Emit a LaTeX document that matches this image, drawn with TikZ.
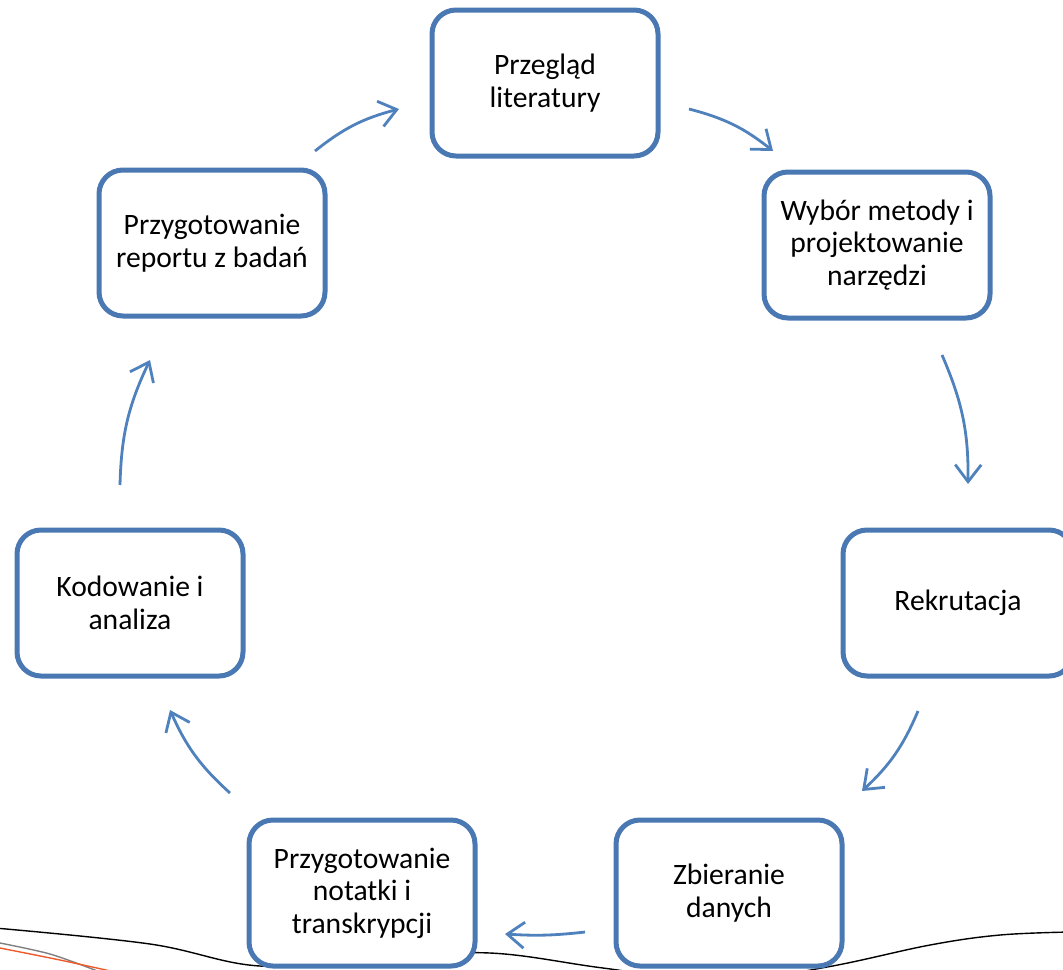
\documentclass[tikz,border=0pt]{standalone}
\usepackage{fontspec}
\setmainfont{Carlito}
\usetikzlibrary{arrows.meta}
\definecolor{boxblue}{HTML}{4A78B2}
\definecolor{arrblue}{HTML}{4F81BD}
\definecolor{footorange}{HTML}{F05A28}
\tikzset{
  stage/.style={draw=boxblue, line width=2.5pt, rounded corners=12pt, fill=white,
    minimum width=113pt, minimum height=73pt, align=center, inner sep=0pt,
    font=\fontsize{14.8pt}{16.2pt}\selectfont},
  flow/.style={draw=arrblue, line width=1.4pt, -{Straight Barb[length=8.5pt,width=13pt,line width=1.4pt]}, bend left=12},
}
\begin{document}
\begin{tikzpicture}[x=0.5pt,y=-0.5pt]
\useasboundingbox (0,0) rectangle (1063,969);
\clip (0,0) rectangle (1063,969);
% footer decoration lines
\draw[black, line width=0.7pt] plot[smooth, tension=0.6] coordinates {(-5,928) (150,944) (260,966) (380,958) (490,953) (603,968) (720,982) (827,967) (930,945) (1000,935) (1070,932)};
\draw[gray, line width=0.7pt] plot[smooth] coordinates {(-5,942) (50,954) (100,972)};
\draw[footorange, line width=0.7pt] plot[smooth] coordinates {(-5,947) (60,960) (115,972)};
% stages
\node[stage] (n1) at (545,83) {Przegląd\\literatury};
\node[stage] (n2) at (877,245) {Wybór metody i\\projektowanie\\narzędzi};
\node[stage, minimum width=115pt] (n3) at (958,603) {Rekrutacja};
\node[stage] (n4) at (729,893) {Zbieranie\\danych};
\node[stage] (n5) at (362,893) {Przygotowanie\\notatki i\\transkrypcji};
\node[stage] (n6) at (130,603) {Kodowanie i\\analiza};
\node[stage] (n7) at (212,243) {Przygotowanie\\reportu z badań};
% arrow ends
\coordinate (a1s) at (689,109); \coordinate (a1e) at (773,151);
\coordinate (a2s) at (942,355); \coordinate (a2e) at (968,484);
\coordinate (a3s) at (918,711); \coordinate (a3e) at (862,791);
\coordinate (a4s) at (585,932); \coordinate (a4e) at (505,934);
\coordinate (a5s) at (230,793); \coordinate (a5e) at (170,710);
\coordinate (a6s) at (120,485); \coordinate (a6e) at (150,360);
\coordinate (a7s) at (315,151); \coordinate (a7e) at (399,109);
\draw[flow] (a1s) to (a1e);
\draw[flow] (a2s) to (a2e);
\draw[flow] (a3s) to (a3e);
\draw[flow, bend left=5] (a4s) to (a4e);
\draw[flow] (a5s) to (a5e);
\draw[flow] (a6s) to (a6e);
\draw[flow] (a7s) to (a7e);
\end{tikzpicture}
\end{document}
